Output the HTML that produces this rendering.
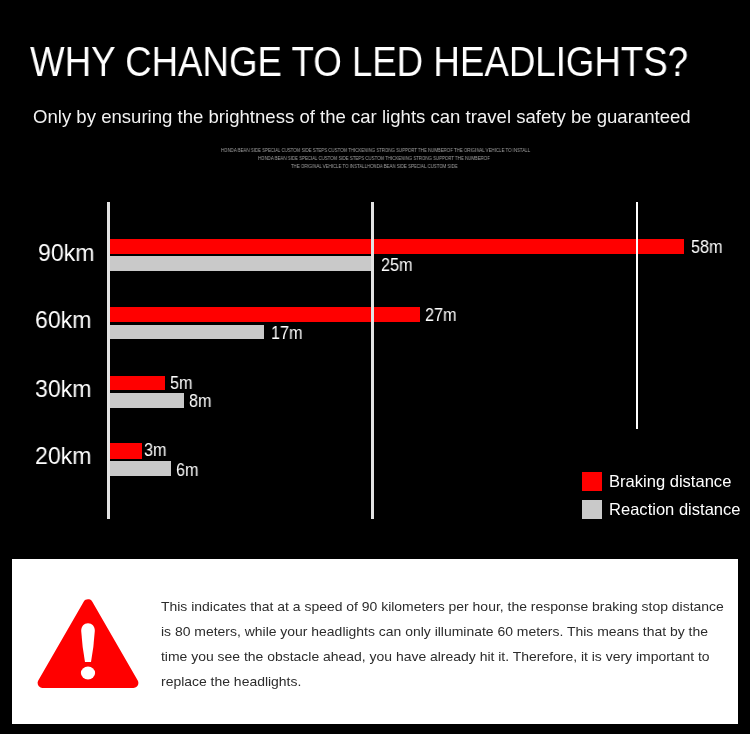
<!DOCTYPE html>
<html>
<head>
<meta charset="utf-8">
<style>
html,body{margin:0;padding:0;}
body{width:750px;height:739px;background:#fff;position:relative;overflow:hidden;font-family:"Liberation Sans",sans-serif;}
#bg{position:absolute;left:0;top:0;width:750px;height:734px;background:#000;}
.t{position:absolute;white-space:nowrap;line-height:1;transform-origin:0 0;will-change:transform;}
.title{left:30.3px;top:41.4px;font-size:42px;color:#fff;transform:scaleX(0.873);}
.sub{left:32.6px;top:108.3px;font-size:18.5px;color:#f2f2f2;transform:scaleX(1.004);}
.tiny{font-size:5px;color:#a0a0a0;transform:scaleX(0.87);}
.vl{position:absolute;background:#e2e2e2;}
.bar{position:absolute;}
.r{background:#ff0000;}
.g{background:#c9c9c9;}
.km{font-size:24.5px;color:#fff;transform:scaleX(0.942);}
.val{font-size:17.5px;color:#fff;transform:scaleX(0.925);}
.leg{font-size:16.5px;color:#fff;transform:scaleX(1.003);}
#box{position:absolute;left:12px;top:559px;width:726px;height:165px;background:#fff;}
.p{font-size:13.5px;color:#2c2c2c;transform:scaleX(1.033);}
</style>
</head>
<body>
<div id="bg"></div>
<div class="t title" id="title">WHY CHANGE TO LED HEADLIGHTS?</div>
<div class="t sub" id="sub">Only by ensuring the brightness of the car lights can travel safety be guaranteed</div>
<div class="t tiny" id="tn1" style="left:220.5px;top:148px;">HONDA BEAN SIDE SPECIAL CUSTOM SIDE STEPS CUSTOM THICKENING STRONG SUPPORT THE NUMBEROF THE ORIGINAL VEHICLE TO INSTALL</div>
<div class="t tiny" id="tn2" style="left:258px;top:156px;">HONDA BEAN SIDE SPECIAL CUSTOM SIDE STEPS CUSTOM THICKENING STRONG SUPPORT THE NUMBEROF</div>
<div class="t tiny" id="tn3" style="left:291.3px;top:164px;">THE ORIGINAL VEHICLE TO INSTALLHONDA BEAN SIDE SPECIAL CUSTOM SIDE</div>

<!-- bars -->
<div class="bar r" style="left:110px;top:239px;width:574px;height:15px;"></div>
<div class="bar g" style="left:110px;top:256px;width:262px;height:15px;"></div>
<div class="bar r" style="left:110px;top:307px;width:310px;height:15px;"></div>
<div class="bar g" style="left:110px;top:325px;width:154px;height:14px;"></div>
<div class="bar r" style="left:110px;top:376px;width:55px;height:14px;"></div>
<div class="bar g" style="left:110px;top:393px;width:74px;height:15px;"></div>
<div class="bar r" style="left:110px;top:443px;width:32px;height:16px;"></div>
<div class="bar g" style="left:110px;top:461px;width:61px;height:15px;"></div>

<!-- vertical lines -->
<div class="vl" style="left:107px;top:202px;width:3px;height:317px;"></div>
<div class="vl" style="left:371px;top:202px;width:3px;height:317px;"></div>
<div class="vl" style="left:636px;top:202px;width:2px;height:227px;background:#fff;"></div>

<!-- km labels -->
<div class="t km" id="km90" style="left:38.4px;top:240.7px;">90km</div>
<div class="t km" id="km60" style="left:34.8px;top:308.0px;">60km</div>
<div class="t km" id="km30" style="left:35.3px;top:376.7px;">30km</div>
<div class="t km" id="km20" style="left:34.8px;top:444.0px;">20km</div>

<!-- values -->
<div class="t val" id="v58" style="left:690.6px;top:239.2px;">58m</div>
<div class="t val" id="v25" style="left:381.3px;top:256.6px;">25m</div>
<div class="t val" id="v27" style="left:425.4px;top:307.2px;">27m</div>
<div class="t val" id="v17" style="left:270.7px;top:324.6px;">17m</div>
<div class="t val" id="v5" style="left:170.0px;top:374.6px;">5m</div>
<div class="t val" id="v8" style="left:189.3px;top:393.1px;">8m</div>
<div class="t val" id="v3" style="left:144.3px;top:441.6px;">3m</div>
<div class="t val" id="v6" style="left:175.6px;top:461.6px;">6m</div>

<!-- legend -->
<div class="bar r" style="left:582px;top:472px;width:20px;height:19px;"></div>
<div class="bar g" style="left:582px;top:500px;width:20px;height:19px;"></div>
<div class="t leg" id="lg1" style="left:608.6px;top:472.9px;">Braking distance</div>
<div class="t leg" id="lg2" style="left:608.6px;top:500.7px;">Reaction distance</div>

<div id="box"></div>
<svg style="position:absolute;left:0;top:0;" width="750" height="739">
<polygon points="88,604.2 42.6,683 133.4,683" fill="#ff0000" stroke="#ff0000" stroke-width="10" stroke-linejoin="round"/>
<path d="M81.2 631 C81.2 626.3 84 623.3 88 623.3 C92 623.3 94.8 626.3 94.8 631 Q93.8 647 91 661.9 L85 661.9 Q82.2 647 81.2 631 Z" fill="#fff"/>
<ellipse cx="88" cy="673" rx="7.1" ry="6.4" fill="#fff"/>
</svg>
<div class="t p" id="p1" style="left:161px;top:600px;">This indicates that at a speed of 90 kilometers per hour, the response braking stop distance</div>
<div class="t p" id="p2" style="left:161px;top:625px;">is 80 meters, while your headlights can only illuminate 60 meters. This means that by the</div>
<div class="t p" id="p3" style="left:161px;top:650px;">time you see the obstacle ahead, you have already hit it. Therefore, it is very important to</div>
<div class="t p" id="p4" style="left:161px;top:675px;">replace the headlights.</div>
</body>
</html>
